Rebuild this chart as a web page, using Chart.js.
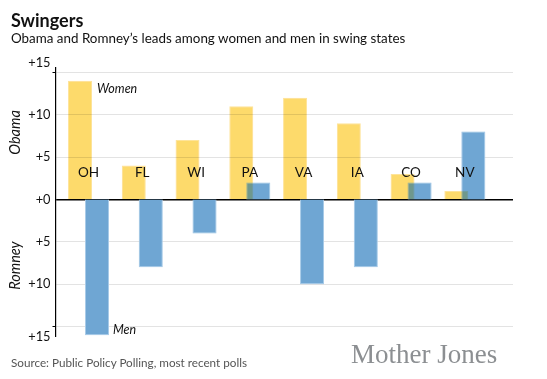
<!DOCTYPE html>
<html><head><meta charset="utf-8">
<script src="https://cdn.jsdelivr.net/npm/chart.js@4"></script>
<style>
html,body{margin:0;padding:0;background:#fff;}
#wrap{position:relative;width:547px;height:379px;overflow:hidden;}
canvas{position:absolute;left:0;top:0;}
.t{position:absolute;white-space:nowrap;font-family:'Lato',sans-serif;line-height:1;}
#title{left:11px;top:11px;font-size:18px;font-weight:bold;color:#111;}
#sub{left:11px;top:32px;font-size:13.4px;color:#111;}
#src{left:11px;top:357px;font-size:11.7px;color:#555;}
#logo{left:351px;top:341px;font-family:'Liberation Serif',serif;font-size:27px;color:#8c8f92;}
</style></head>
<body><div id="wrap">
<canvas id="c" width="547" height="379"></canvas>
<div class="t" id="title">Swingers</div>
<div class="t" id="sub">Obama and Romney’s leads among women and men in swing states</div>
<div class="t" id="src">Source: Public Policy Polling, most recent polls</div>
<div class="t" id="logo">Mother Jones</div>
</div>
<script>
// ---- data ----
const states = ['OH','FL','WI','PA','VA','IA','CO','NV'];
const women = [14, 4, 7, 11, 12, 9, 3, 1];      // + = Obama lead
const men   = [-16, -8, -4, 2, -10, -8, 2, 8];  // - = Romney lead
const gridTicks = [-15, -10, -5, 0, 5, 10, 15];
const labelTickValues = [-16.2, -10, -5, 0, 5, 10, 16.1];
const labelTickText = ['+15', '+10', '+5', '+0', '+5', '+10', '+15'];
const seriesNames = ['Women', 'Men'];
const sideTitles = ['Obama', 'Romney'];

const YELLOW = '#FDDA6B', BLUE = '#70A6D3';
const FONT = 'Lato';

const extras = {
  id: 'extras',
  // dataset 0 (yellow) is drawn last, on top of blue: blend it by multiply
  beforeDatasetDraw(chart, args) {
    if (args.index === 0) { chart.ctx.save(); chart.ctx.globalCompositeOperation = 'multiply'; }
  },
  afterDatasetDraw(chart, args) {
    if (args.index === 0) chart.ctx.restore();
  },
  afterDatasetsDraw(chart) {
    const ctx = chart.ctx, xs = chart.scales.x, ys = chart.scales.y;
    // soften the overlap: re-draw the blue bars lightly on top
    ctx.save();
    ctx.globalAlpha = 0.43;
    chart.getDatasetMeta(1).data.forEach(el => el.draw(ctx));
    ctx.restore();

    ctx.save();
    ctx.fillStyle = '#111';
    ctx.font = '13.5px ' + FONT;
    ctx.textAlign = 'center'; ctx.textBaseline = 'middle';
    const ly = ys.getPixelForValue(3.2);
    states.forEach((s, i) => ctx.fillText(s, xs.getPixelForValue(i), ly));
    // series labels
    ctx.font = 'italic 12.5px ' + FONT;
    ctx.textAlign = 'left';
    const w0 = chart.getDatasetMeta(0).data[0];
    ctx.fillText(seriesNames[0], w0.x + w0.width / 2 + 5, w0.y + 8);
    const m0 = chart.getDatasetMeta(1).data[0];
    ctx.fillText(seriesNames[1], m0.x + m0.width / 2 + 4, m0.y - 5);
    // side titles
    ctx.font = 'italic 14.5px ' + FONT;
    ctx.textAlign = 'center';
    [[sideTitles[0], 7.9], [sideTitles[1], -7.8]].forEach(([t, v]) => {
      ctx.save();
      ctx.translate(15, ys.getPixelForValue(v));
      ctx.rotate(-Math.PI / 2);
      ctx.fillText(t, 0, 0);
      ctx.restore();
    });
    ctx.restore();
  }
};

new Chart(document.getElementById('c'), {
  type: 'bar',
  data: {
    datasets: [
      { label: seriesNames[0], data: women.map((v, i) => ({x: i, y: v})),
        backgroundColor: YELLOW, borderColor: '#FEE49A', borderWidth: 1 },
      { label: seriesNames[1], data: men.map((v, i) => ({x: i, y: v})),
        backgroundColor: BLUE, borderColor: '#A9CBE8', borderWidth: 1 }
    ]
  },
  options: {
    responsive: false,
    animation: false,
    categoryPercentage: 0.6324,
    barPercentage: 1.412,
    layout: { padding: { left: 8, right: 34, top: 68, bottom: 43 } },
    plugins: { legend: { display: false }, tooltip: { enabled: false } },
    scales: {
      x: {
        type: 'linear', min: -0.614, max: 7.896, offset: false, display: false,
        grid: { offset: false },
        afterBuildTicks: s => { s.ticks = states.map((_, i) => ({value: i})); }
      },
      yl: {
        position: 'left', weight: 1, min: -16.1, max: 15.5,
        grid: { display: false, drawTicks: false }, border: { display: false },
        afterBuildTicks: s => { s.ticks = labelTickValues.map(v => ({value: v})); },
        ticks: {
          padding: 2,
          color: '#111',
          font: { family: FONT, size: 12.8 },
          callback: (v, i) => labelTickText[i]
        },
        afterFit: s => { s.width = 44.5; }
      },
      y: {
        position: 'left', weight: 0, min: -16.1, max: 15.5,
        afterBuildTicks: s => { s.ticks = gridTicks.map(v => ({value: v})); },
        ticks: { display: false },
        grid: {
          color: c => c.tick && c.tick.value === 0 ? '#000' : '#e3e3e3',
          lineWidth: c => c.tick && c.tick.value === 0 ? 1.5 : 1,
          tickLength: 3,
          tickColor: c => c.tick && Math.abs(c.tick.value) === 15 ? '#000' : 'rgba(0,0,0,0)',
          tickWidth: 1
        },
        border: { display: true, color: '#000', width: 1.2 },
        afterFit: s => { s.width = 3; }
      }
    }
  },
  plugins: [extras]
});
</script>
</body></html>
